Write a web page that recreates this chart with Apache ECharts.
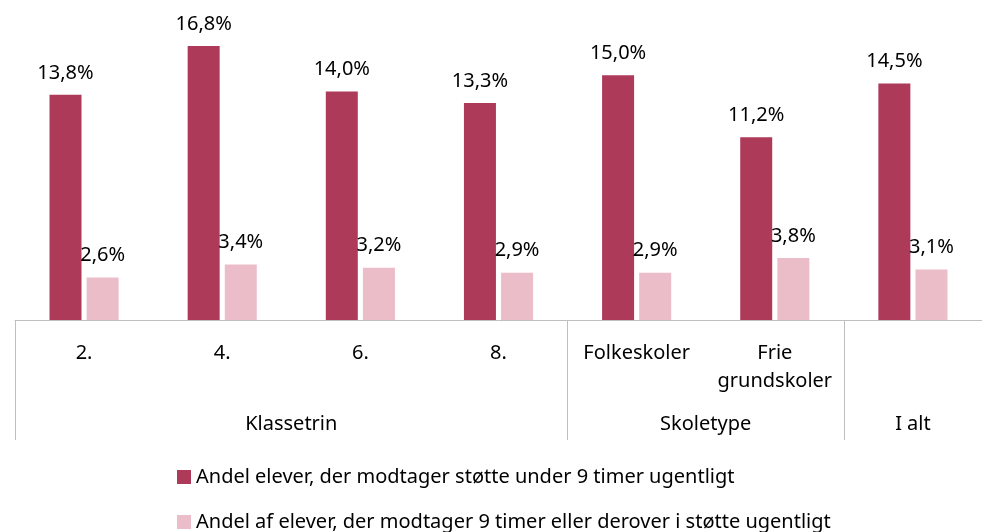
<!DOCTYPE html>
<html>
<head>
<meta charset="utf-8">
<script src="https://cdn.jsdelivr.net/npm/echarts@6/dist/echarts.min.js"></script>
<style>
    html, body { margin: 0; padding: 0; background: #fff; }
    #chart { width: 982px; height: 532px; }
</style>
</head>
<body>
<div id="chart"></div>
<script>
    // data
    var categories = ['2.', '4.', '6.', '8.', 'Folkeskoler', 'Frie\ngrundskoler', ''];
    var under9 = [13.8, 16.8, 14.0, 13.3, 15.0, 11.2, 14.5];
    var over9 = [2.6, 3.4, 3.2, 2.9, 2.9, 3.8, 3.1];
    var groupNames = ['Klassetrin', 'Skoletype', 'I alt'];
    var groupCenters = [2, 5, 6.5];
    var groupBounds = [0, 4, 6, 7];
    var seriesNames = [
        'Andel elever, der modtager støtte under 9 timer ugentligt',
        'Andel af elever, der modtager 9 timer eller derover i støtte ugentligt'
    ];

    var font = 'Noto Sans';
    var fs = 20;
    var myChart = echarts.init(document.getElementById('chart'));

    function pct(p) {
        return p.value.toFixed(1).replace('.', ',') + '%';
    }

    function legendFor(name, top) {
        return {
            left: 172,
            top: top,
            itemWidth: 14,
            itemHeight: 14,
            itemGap: 0,
            icon: 'rect',
            textStyle: { fontFamily: font, fontSize: fs, color: '#000' },
            data: [name]
        };
    }

    var option = {
        animation: false,
        textStyle: { fontFamily: font },
        legend: [
            legendFor(seriesNames[0], 462),
            legendFor(seriesNames[1], 507)
        ],
        grid: { left: 15, top: 10, width: 970, height: 310 },
        xAxis: [
            {
                type: 'category',
                data: categories,
                axisLine: { lineStyle: { color: '#bfbfbf', width: 1 } },
                axisTick: { show: false },
                axisLabel: {
                    interval: 0,
                    margin: 19,
                    fontSize: fs,
                    lineHeight: 28,
                    color: '#000',
                    fontFamily: font
                }
            },
            {
                type: 'value',
                position: 'bottom',
                min: 0,
                max: 7,
                axisLine: { show: false },
                splitLine: { show: false },
                axisTick: {
                    show: true,
                    customValues: groupBounds,
                    length: 120,
                    lineStyle: { color: '#bfbfbf' }
                },
                axisLabel: {
                    customValues: groupCenters,
                    margin: 94,
                    fontSize: fs,
                    color: '#000',
                    fontFamily: font,
                    formatter: function (v) {
                        return groupNames[groupCenters.indexOf(v)];
                    }
                }
            }
        ],
        yAxis: {
            type: 'value',
            min: 0,
            max: 19,
            show: false
        },
        series: [
            {
                name: seriesNames[0],
                type: 'bar',
                data: under9,
                barWidth: 32,
                barGap: '16%',
                itemStyle: { color: '#ae3a5a' },
                label: {
                    show: true, position: 'top', distance: 12,
                    fontSize: fs, color: '#000', fontFamily: font, formatter: pct
                }
            },
            {
                name: seriesNames[1],
                type: 'bar',
                data: over9,
                barWidth: 32,
                itemStyle: { color: '#ebbdc9' },
                label: {
                    show: true, position: 'top', distance: 12,
                    fontSize: fs, color: '#000', fontFamily: font, formatter: pct
                }
            }
        ]
    };

    myChart.setOption(option);
    window.onresize = myChart.resize;
</script>
</body>
</html>
